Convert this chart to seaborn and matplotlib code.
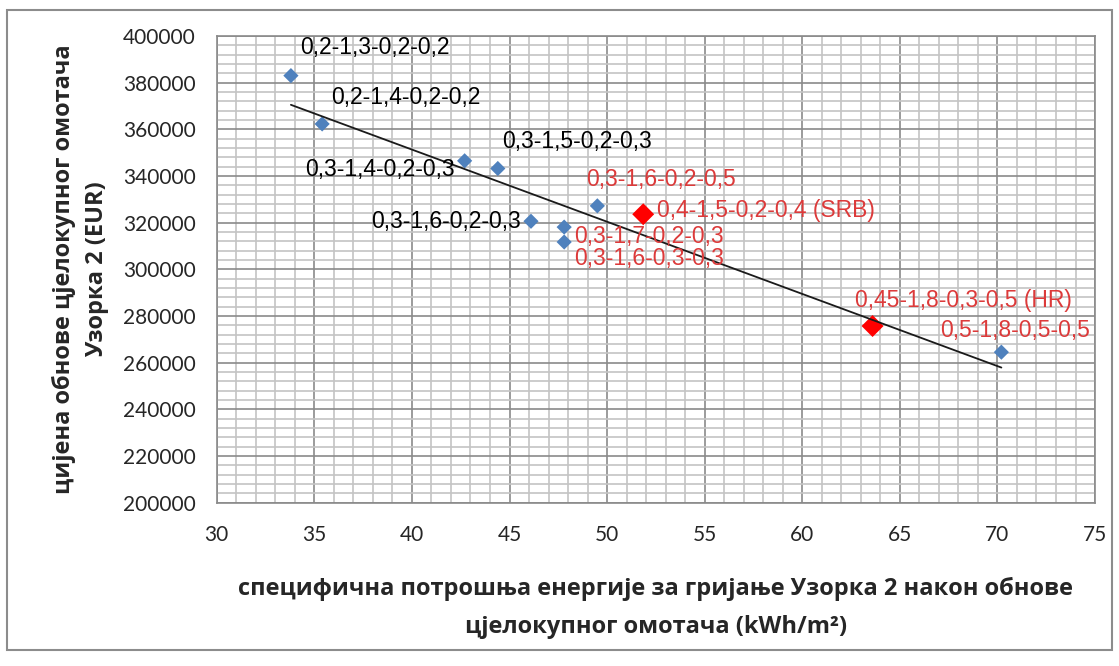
import seaborn as sns
import matplotlib.pyplot as plt
import matplotlib.patches as mpatches
from matplotlib.ticker import MultipleLocator
import pandas as pd

# podaci
energy = [33.8, 35.4, 42.7, 44.4, 46.1, 47.8, 47.8, 49.5, 51.85, 63.6, 70.2]
cost = [383000, 362300, 346500, 343200, 320600, 318100, 311700, 327200, 323600, 275700, 264500]
group = ['base', 'base', 'base', 'base', 'base', 'base', 'base', 'base', 'marked', 'marked', 'base']
point_labels = ['0,2-1,3-0,2-0,2', '0,2-1,4-0,2-0,2', '0,3-1,4-0,2-0,3', '0,3-1,5-0,2-0,3',
                '0,3-1,6-0,2-0,3', '0,3-1,7-0,2-0,3', '0,3-1,6-0,3-0,3', '0,3-1,6-0,2-0,5',
                '0,4-1,5-0,2-0,4 (SRB)', '0,45-1,8-0,3-0,5 (HR)', '0,5-1,8-0,5-0,5']
label_red = [False, False, False, False, False, True, True, True, True, True, True]

x_ticks = [30, 35, 40, 45, 50, 55, 60, 65, 70, 75]
y_ticks = [200000, 220000, 240000, 260000, 280000, 300000, 320000, 340000, 360000, 380000, 400000]

x_title = 'специфична потрошња енергије за гријање Узорка 2 након обнове\nцјелокупног омотача (kWh/m²)'
y_title = 'цијена обнове цјелокупног омотача\nУзорка 2 (EUR)'

df = pd.DataFrame({'energy': energy, 'cost': cost, 'group': group})

# polozaj natpisa (pikseli od tacke) i poravnanje
label_offsets = [(9, 28), (9, 26), (-10, -9), (4, 27), (-10, 0), (10, -9),
                 (10, -16), (-11, 26), (14, 4), (-18, 26), (-61, 22)]
label_ha = ['left', 'left', 'right', 'left', 'right', 'left', 'left', 'left', 'left', 'left', 'left']

sns.set_style('white')
plt.rcParams['font.family'] = ['Liberation Sans', 'DejaVu Sans']

fig = plt.figure(figsize=(11.19, 6.66), dpi=100)
ax = fig.add_axes([0.1937, 0.2452, 0.7849, 0.7008])

sns.scatterplot(data=df, x='energy', y='cost', hue='group', size='group',
                palette={'base': '#4F81BD', 'marked': '#FF0000'},
                sizes={'base': 60, 'marked': 125}, marker='D', linewidth=0,
                legend=False, ax=ax, zorder=3)
sns.regplot(data=df, x='energy', y='cost', scatter=False, ci=None, ax=ax,
            color='#1a1a1a', line_kws={'linewidth': 1.3, 'zorder': 4})

for i, txt in enumerate(point_labels):
    ax.annotate(txt, (energy[i], cost[i]), xytext=label_offsets[i], textcoords='offset pixels',
                ha=label_ha[i], va='center', fontsize=16.5,
                color='#DC3A3A' if label_red[i] else 'black', zorder=5)

ax.set_xlim(30, 75)
ax.set_ylim(200000, 400000)
ax.set_xticks(x_ticks)
ax.set_xticklabels([str(t) for t in x_ticks], family=['Lato', 'DejaVu Sans'], fontsize=15, color='#262626')
ax.set_yticks(y_ticks)
ax.set_yticklabels([str(t) for t in y_ticks], family=['Lato', 'DejaVu Sans'], fontsize=15, color='#262626')
ax.xaxis.set_minor_locator(MultipleLocator(1))
ax.yaxis.set_minor_locator(MultipleLocator(4000))

ax.set_axisbelow(True)
ax.grid(which='major', color='#8a8a8a', linewidth=1.2)
ax.grid(which='minor', color='#c4c4c4', linewidth=1.2)
ax.tick_params(which='major', direction='out', length=6, width=1.2, color='#8a8a8a')
ax.tick_params(axis='x', which='major', pad=10)
ax.tick_params(axis='y', which='major', pad=9)
ax.tick_params(which='minor', length=0)
for side in ['left', 'bottom', 'top', 'right']:
    ax.spines[side].set_color('#8a8a8a')
    ax.spines[side].set_linewidth(1.2)

ax.set_xlabel(x_title, family=['Open Sans', 'DejaVu Sans'], fontweight='bold', fontsize=17, linespacing=1.8)
ax.set_ylabel(y_title, family=['Open Sans', 'DejaVu Sans'], fontweight='bold', fontsize=17, linespacing=1.5)
ax.xaxis.label.set_verticalalignment('center')
ax.yaxis.label.set_verticalalignment('center')
ax.xaxis.set_label_coords(0.5, -0.2256)
ax.yaxis.set_label_coords(-0.1556, 0.5)

# okvir grafikona
fig.patches.append(mpatches.Rectangle((0.006, 0.024), 0.988, 0.961, transform=fig.transFigure,
                                      fill=False, edgecolor='#8c8c8c', linewidth=1.5))

fig.savefig('out.png', dpi=100)
